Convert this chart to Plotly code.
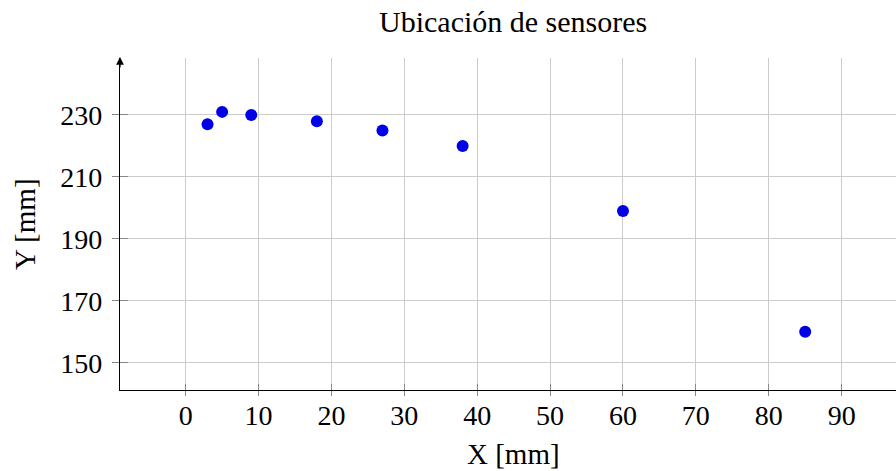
import plotly.graph_objects as go

x_mm = [3, 5, 9, 18, 27, 38, 60, 85]
y_mm = [227, 231, 230, 228, 225, 220, 199, 160]
x_ticks = [0, 10, 20, 30, 40, 50, 60, 70, 80, 90]
y_ticks = [150, 170, 190, 210, 230]
title_text = "Ubicación de sensores"
x_label = "X [mm]"
y_label = "Y [mm]"

FONT = "Liberation Serif"
X_RANGE = [-9.01, 97.46]
Y_RANGE = [141.18, 248.4]

fig = go.Figure()
fig.add_trace(go.Scatter(
    x=x_mm, y=y_mm, mode="markers",
    marker=dict(size=12, color="#0000e6", line=dict(width=0)),
    showlegend=False,
))
# invisible trace so the overlay axes (inner half of centred ticks) are drawn
fig.add_trace(go.Scatter(
    x=[x_mm[0]], y=[y_mm[0]], xaxis="x2", yaxis="y2", mode="markers",
    marker=dict(size=1, opacity=0), showlegend=False, hoverinfo="skip",
))

fig.update_layout(
    width=896, height=471,
    margin=dict(l=120, r=0, t=58, b=81),
    paper_bgcolor="white", plot_bgcolor="white",
    font=dict(family=FONT, color="black", size=28),
    xaxis=dict(
        range=X_RANGE, tickvals=x_ticks,
        showgrid=True, gridcolor="#cccccc", gridwidth=1,
        zeroline=False, showline=True, linecolor="black", linewidth=1.3,
        ticks="outside", ticklen=5, tickcolor="#888888",
        tickfont=dict(family=FONT, size=28, color="black"),
        ticklabelstandoff=-5,
    ),
    yaxis=dict(
        range=Y_RANGE, tickvals=y_ticks,
        showgrid=True, gridcolor="#cccccc", gridwidth=1,
        zeroline=False, showline=True, linecolor="black", linewidth=1.3,
        ticks="outside", ticklen=7, tickcolor="#888888",
        tickfont=dict(family=FONT, size=28, color="black"),
        ticklabelstandoff=4,
    ),
    xaxis2=dict(
        range=X_RANGE, tickvals=x_ticks, overlaying="x", side="bottom",
        showgrid=False, zeroline=False, showline=False,
        ticks="inside", ticklen=6, tickcolor="#888888", showticklabels=False,
    ),
    yaxis2=dict(
        range=Y_RANGE, tickvals=y_ticks, overlaying="y", side="left",
        showgrid=False, zeroline=False, showline=False,
        ticks="inside", ticklen=8, tickcolor="#888888", showticklabels=False,
    ),
    annotations=[
        dict(text=title_text, xref="paper", yref="paper", x=0.5065, y=1 + 36 / 332,
             xanchor="center", yanchor="middle", showarrow=False,
             font=dict(family=FONT, size=30, color="black")),
        dict(text=x_label, xref="paper", yref="paper", x=0.5065, y=-64 / 332,
             xanchor="center", yanchor="middle", showarrow=False,
             font=dict(family=FONT, size=29, color="black")),
        dict(text=y_label, xref="paper", yref="paper", x=-95 / 776, y=0.5,
             xanchor="center", yanchor="middle", showarrow=False, textangle=-90,
             font=dict(family=FONT, size=29, color="black")),
        dict(text="", xref="paper", yref="paper", x=0, y=1.003,
             ax=0, ay=12, axref="pixel", ayref="pixel",
             showarrow=True, arrowhead=2, arrowsize=1.2, arrowwidth=1.3,
             arrowcolor="black"),
    ],
)

fig.write_html("out.html")
